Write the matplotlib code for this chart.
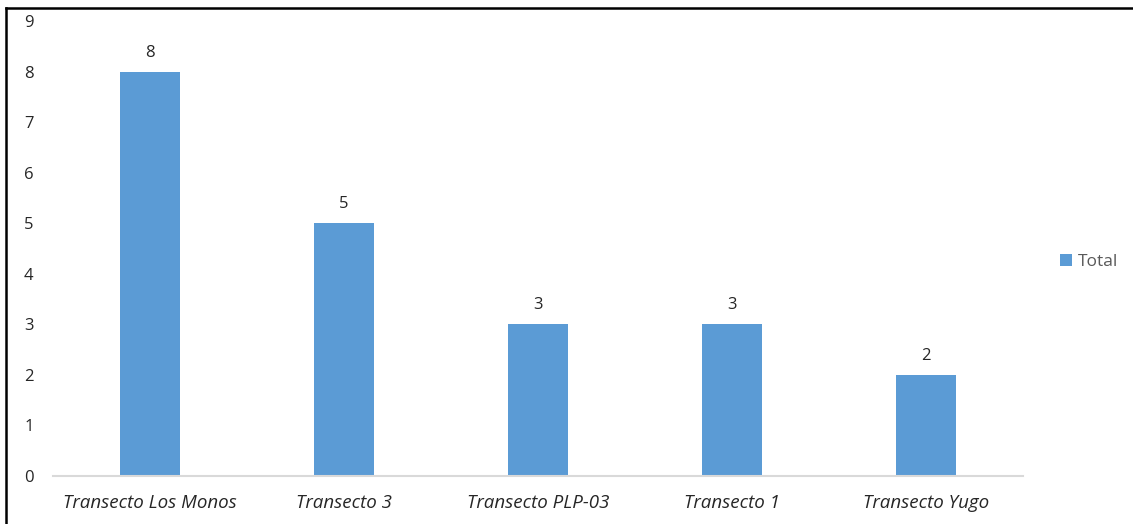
import matplotlib.pyplot as plt
from matplotlib.lines import Line2D

categories = ['Transecto Los Monos', 'Transecto 3', 'Transecto PLP-03', 'Transecto 1', 'Transecto Yugo']
totals = [8, 5, 3, 3, 2]
y_ticks = list(range(0, 10))

plt.rcParams['font.family'] = ['Open Sans', 'DejaVu Sans']

fig = plt.figure(figsize=(11.33, 5.24), dpi=100)
ax = fig.add_axes([0.0468, 0.0916, 0.8562, 0.8674])

x = range(len(categories))
bars = ax.bar(x, totals, width=0.31, color='#5B9BD5', label='Total')

# etiquetas de valor sobre cada barra
for b, v in zip(bars, totals):
	ax.annotate(str(v), (b.get_x() + b.get_width() / 2, v), xytext=(0, 8),
				textcoords='offset points', ha='center', va='bottom',
				fontsize=12, color='#262626')

ax.set_xlim(-0.5, len(categories) - 0.5)
ax.set_ylim(0, 9)
ax.set_yticks(y_ticks)
ax.set_xticks(list(x))
ax.set_xticklabels(categories, fontstyle='italic', fontsize=13.5, color='#262626')
ax.tick_params(axis='y', length=0, labelsize=12, labelcolor='#262626', pad=14)
ax.tick_params(axis='x', length=0, pad=13)

for side in ['top', 'right', 'left']:
	ax.spines[side].set_visible(False)
ax.spines['bottom'].set_color('#D9D9D9')
ax.spines['bottom'].set_linewidth(1.5)

fig.legend(handles=[bars], labels=['Total'], loc='center left',
		   bbox_to_anchor=(0.922, 0.5), frameon=False, fontsize=12.5,
		   handlelength=0.7, handleheight=0.7, handletextpad=0.3,
		   labelcolor='#595959')

# marco superior e izquierdo de la imagen recortada
fig.add_artist(Line2D([6 / 1133, 6 / 1133], [0, 1 - 8 / 524], color='black', linewidth=1.8))
fig.add_artist(Line2D([6 / 1133, 1], [1 - 8 / 524, 1 - 8 / 524], color='black', linewidth=1.8))

fig.savefig('out.png', dpi=100)
